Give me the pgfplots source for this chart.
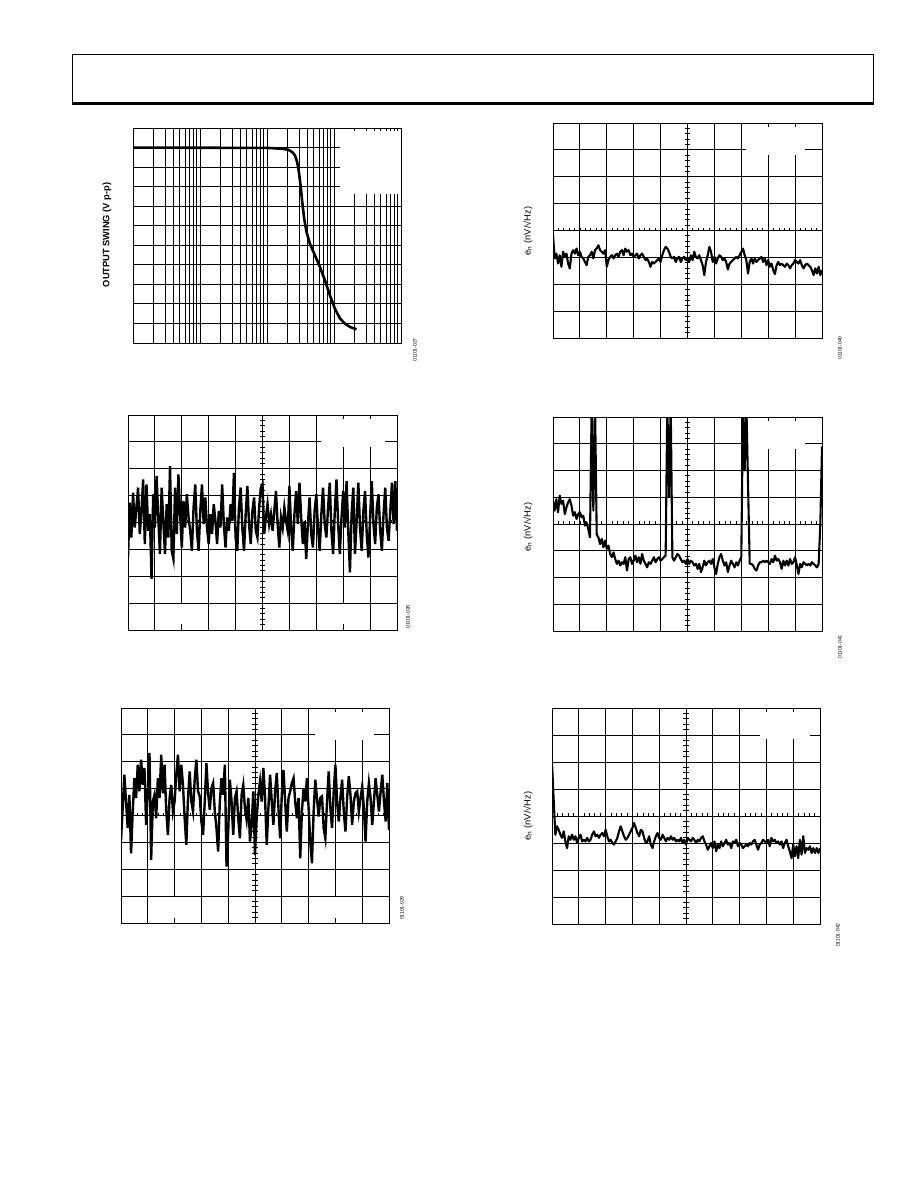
\documentclass[border=0pt]{standalone}
\usepackage{fontspec}
\setmainfont{Liberation Sans}
\usepackage{pgfplots}
\pgfplotsset{compat=1.18}

\pgfplotsset{
  scopeaxis/.style={scale only axis, anchor=south west,
    xmin=0, xmax=160, ymin=0, ymax=8,
    xtick={0,16,...,160}, ytick={0,1,...,8},
    xticklabels={}, yticklabels={},
    major tick length=0pt, minor tick length=0pt,
    grid=major, major grid style={black, line width=0.9pt},
    axis line style={black, line width=1pt}},
  trace/.style={black, line width=2.1pt, line join=round, no marks},
  noisetrace/.style={black, line width=2.4pt, line join=miter, no marks},
}
\newcommand{\scopeticks}{%
  \pgfplotsinvokeforeach{0.2,0.4,...,7.8}{\draw[line width=0.8pt] (axis cs:80,##1) ++(-2.7pt,0) -- ++(5.4pt,0);}
  \pgfplotsinvokeforeach{3.2,6.4,...,156.8}{\draw[line width=0.8pt] (axis cs:##1,4) -- ++(0,2.7pt);}
}
\newcommand{\frameredraw}{\draw[line width=1pt] (rel axis cs:0,0) rectangle (rel axis cs:1,1);}

\begin{document}
\begin{tikzpicture}
\useasboundingbox (0pt,0pt) rectangle (918pt,-1188pt);

% header box
\draw[line width=1pt] (72pt,-103pt) -- (72pt,-54.5pt) -- (873pt,-54.5pt) -- (873pt,-103pt);
\draw[line width=2.7pt] (71.5pt,-103.3pt) -- (873.5pt,-103.3pt);

% ---------- Plot 1: output swing vs frequency ----------
\begin{axis}[scale only axis, width=268pt, height=215pt, at={(133pt,-343pt)}, anchor=south west,
  xmode=log, xmin=1e3, xmax=1e7, ymin=0, ymax=11, ytick={0,1,...,11},
  xticklabels={}, yticklabels={}, major tick length=0pt, minor tick length=0pt,
  grid=both, major grid style={black, line width=0.9pt}, minor grid style={black, line width=0.9pt},
  axis line style={black, line width=1pt}]
\fill[white] (axis cs:1.22e6,7.6) rectangle (axis cs:1e7,10.85);
\addplot[black, line width=2.6pt, line join=round, no marks] coordinates {
(1e3,10.0) (1.04e5,9.98) (1.65e5,9.94) (2.07e5,9.89) (2.38e5,9.77) (2.61e5,9.60)
(2.82e5,9.26) (2.99e5,8.75) (3.17e5,8.07) (3.36e5,7.21) (3.59e5,6.36) (3.89e5,5.68)
(4.37e5,5.08) (5.19e5,4.49) (6.17e5,3.89) (7.31e5,3.21) (8.69e5,2.44) (1.03e6,1.76)
(1.23e6,1.25) (1.46e6,0.99) (1.73e6,0.82) (2.17e6,0.70)};
\frameredraw
\end{axis}
\node[rotate=90, inner sep=0pt, font=\fontsize{9.3}{10}\selectfont\bfseries] at (107pt,-235pt) {OUTPUT SWING (V p-p)};
\node[rotate=90, inner sep=0pt, font=\fontsize{5}{6}\selectfont] at (415pt,-350pt) {01101-027};

% ---------- Plot 2 ----------
\begin{axis}[scopeaxis, width=269pt, height=215pt, at={(553pt,-338pt)}]
\fill[white] (axis cs:115,6.82) rectangle (axis cs:150,7.85);
\scopeticks
\addplot[trace] coordinates {
(0,3.83) (1,2.96) (2,3.14) (3,2.77) (4,3.08) (5,2.65) (6,3.21) (7,3.02) (8,3.14) (9,2.77)
(10,2.59) (11,3.14) (12,3.27) (13,3.14) (14,3.33) (15,3.08) (16,3.21) (17,3.02) (18,2.96) (19,2.83)
(20,2.71) (21,3.02) (22,3.08) (23,3.21) (24,2.96) (25,3.27) (26,3.33) (27,3.45) (28,3.27) (29,3.21)
(30,3.14) (31,3.27) (32,2.65) (33,2.90) (34,3.02) (35,3.08) (36,2.96) (37,3.08) (38,3.14) (39,3.02)
(40,3.21) (41,3.27) (42,3.08) (43,3.33) (44,3.21) (45,3.27) (46,3.08) (47,3.14) (48,3.02) (49,3.08)
(50,3.14) (51,2.96) (52,3.08) (53,3.14) (54,3.02) (55,2.90) (56,2.96) (57,2.83) (58,2.65) (59,2.83)
(60,2.77) (61,2.83) (62,2.90) (63,2.96) (64,2.83) (65,3.08) (66,3.27) (67,3.39) (68,3.33) (69,3.21)
(70,3.02) (71,2.96) (72,3.02) (73,2.83) (74,2.96) (75,3.02) (76,2.83) (77,2.96) (78,3.02) (79,2.90)
(80,2.96) (81,2.83) (82,3.08) (83,2.90) (84,3.21) (85,3.02) (86,2.96) (87,3.08) (88,2.90) (89,2.71)
(90,2.34) (91,2.83) (92,3.08) (93,3.39) (94,3.21) (95,2.83) (96,3.02) (97,2.77) (98,2.96) (99,3.08)
(100,3.02) (101,2.90) (102,2.96) (103,2.83) (104,2.55) (105,2.77) (106,2.83) (107,2.90) (108,2.96) (109,3.02)
(110,2.96) (111,3.08) (112,3.21) (113,3.33) (114,3.08) (115,2.90) (116,2.40) (117,2.83) (118,2.96) (119,2.77)
(120,2.96) (121,2.83) (122,2.90) (123,2.96) (124,3.02) (125,2.83) (126,2.96) (127,2.71) (128,2.90) (129,2.65)
(130,2.77) (131,2.52) (132,2.38) (133,2.71) (134,2.83) (135,2.71) (136,2.77) (137,2.71) (138,2.65) (139,2.77)
(140,2.71) (141,2.59) (142,2.71) (143,2.77) (144,2.90) (145,2.83) (146,2.77) (147,2.90) (148,2.71) (149,2.59)
(150,2.71) (151,2.77) (152,2.71) (153,2.65) (154,2.52) (155,2.34) (156,2.59) (157,2.40) (158,2.65) (159,2.34)
(160,2.52)};
\frameredraw
\end{axis}
\node[rotate=90, inner sep=0pt, font=\fontsize{9.3}{10}\selectfont] at (528pt,-231pt) {e\textsubscript{n} (nV/√Hz)};
\node[rotate=90, inner sep=0pt, font=\fontsize{5}{6}\selectfont] at (840pt,-348pt) {01101-040};

% ---------- Plot 3 ----------
\begin{axis}[scopeaxis, width=269pt, height=215pt, at={(128pt,-630pt)}]
\fill[white] (axis cs:115,6.82) rectangle (axis cs:153,7.85);
\fill[white] (axis cs:26,0.22) rectangle (axis cs:38,0.96);
\fill[white] (axis cs:122,0.22) rectangle (axis cs:134,0.96);
\scopeticks
\addplot[noisetrace] coordinates {
(0,2.70) (1,4.74) (2,3.44) (3,5.11) (4,3.81) (5,4.56) (6,5.30) (7,3.57) (8,4.43) (9,5.60)
(10,3.20) (11,5.42) (12,3.69) (13,4.31) (14,1.90) (15,5.05) (16,3.81) (17,5.73) (18,4.19) (19,2.83)
(20,5.30) (21,4.06) (22,2.83) (23,4.68) (24,3.44) (25,6.10) (26,2.95) (27,2.64) (28,5.30) (29,3.57)
(30,5.79) (31,4.31) (32,3.07) (33,4.80) (34,3.81) (35,5.05) (36,4.19) (37,3.69) (38,2.95) (39,4.56)
(40,5.42) (41,3.69) (42,2.95) (43,4.43) (44,5.42) (45,3.94) (46,4.93) (47,3.81) (48,3.20) (49,4.31)
(50,3.57) (51,4.68) (52,4.06) (53,3.20) (54,4.43) (55,3.81) (56,5.42) (57,3.94) (58,3.07) (59,4.19)
(60,3.69) (61,4.68) (62,4.06) (63,5.85) (64,3.44) (65,2.95) (66,4.56) (67,5.30) (68,3.81) (69,2.95)
(70,4.31) (71,5.36) (72,3.94) (73,3.20) (74,4.43) (75,4.93) (76,3.69) (77,3.44) (78,4.56) (79,5.30)
(80,5.42) (81,3.57) (82,4.19) (83,4.68) (84,3.94) (85,4.31) (86,3.69) (87,4.43) (88,5.17) (89,3.94)
(90,3.07) (91,4.19) (92,3.81) (93,4.56) (94,4.06) (95,3.69) (96,5.36) (97,3.81) (98,2.95) (99,4.31)
(100,5.17) (101,3.94) (102,5.48) (103,4.19) (104,3.20) (105,4.06) (106,2.64) (107,3.94) (108,4.93) (109,3.57)
(110,3.07) (111,4.43) (112,5.05) (113,3.81) (114,2.95) (115,4.31) (116,5.30) (117,3.94) (118,3.44) (119,4.56)
(120,5.48) (121,3.69) (122,2.83) (123,4.43) (124,5.60) (125,3.94) (126,2.83) (127,4.19) (128,5.17) (129,3.81)
(130,5.54) (131,3.69) (132,2.15) (133,4.31) (134,5.30) (135,2.83) (136,4.06) (137,5.48) (138,3.81) (139,2.95)
(140,4.43) (141,5.17) (142,3.57) (143,2.70) (144,4.19) (145,5.54) (146,3.94) (147,3.20) (148,4.56) (149,5.05)
(150,3.69) (151,2.95) (152,4.31) (153,5.30) (154,3.81) (155,3.32) (156,4.43) (157,5.48) (158,3.94) (159,5.54)
(160,3.69)};
\frameredraw
\end{axis}
\node[rotate=90, inner sep=0pt, font=\fontsize{5}{6}\selectfont] at (408pt,-617pt) {01101-028};

% ---------- Plot 4 ----------
\begin{axis}[scopeaxis, width=269pt, height=214pt, at={(553pt,-631pt)}]
\fill[white] (axis cs:115,6.82) rectangle (axis cs:150,7.85);
\scopeticks
\addplot[trace] coordinates {
(0,4.87) (1,4.50) (2,4.93) (3,4.44) (4,5.06) (5,4.75) (6,4.87) (7,4.37) (8,4.62) (9,4.81)
(10,4.93) (11,4.68) (12,4.31) (13,4.44) (14,4.19) (15,4.37) (16,4.44) (17,4.25) (18,4.31) (19,3.94)
(20,4.06) (21,3.81) (22,3.50) (23,8.5) (24,4.5) (25,8.5) (26,3.6) (27,3.50) (28,3.25) (29,3.44)
(30,3.13) (31,3.38) (32,3.07) (33,3.19) (34,2.88) (35,2.76) (36,2.94) (37,2.69) (38,2.51) (39,2.63)
(40,2.45) (41,2.57) (42,2.51) (43,2.76) (44,2.26) (45,2.69) (46,2.76) (47,2.51) (48,2.63) (49,2.82)
(50,2.57) (51,2.76) (52,2.51) (53,2.88) (54,2.63) (55,2.51) (56,2.38) (57,2.57) (58,2.51) (59,2.63)
(60,2.76) (61,2.57) (62,2.69) (63,2.76) (64,2.63) (65,2.69) (66,2.76) (67,2.82) (68,8.5) (69,5.0)
(70,8.5) (71,2.76) (72,2.63) (73,2.76) (74,2.88) (75,2.82) (76,2.69) (77,2.57) (78,2.63) (79,2.51)
(80,2.69) (81,2.51) (82,2.63) (83,2.57) (84,2.45) (85,2.51) (86,2.32) (87,2.51) (88,2.20) (89,2.38)
(90,2.63) (91,2.45) (92,2.57) (93,2.63) (94,2.51) (95,2.69) (96,2.38) (97,2.13) (98,2.51) (99,2.76)
(100,2.88) (101,2.63) (102,2.45) (103,2.57) (104,2.20) (105,2.45) (106,2.63) (107,2.51) (108,2.38) (109,2.57)
(110,2.45) (111,2.63) (112,2.76) (113,8.5) (114,6.0) (115,8.5) (116,5.5) (117,2.51) (118,2.51) (119,2.45)
(120,2.32) (121,2.26) (122,2.45) (123,2.57) (124,2.57) (125,2.63) (126,2.57) (127,2.63) (128,2.57) (129,2.51)
(130,2.69) (131,2.57) (132,2.82) (133,2.63) (134,2.69) (135,2.57) (136,2.32) (137,2.63) (138,2.45) (139,2.63)
(140,2.45) (141,2.69) (142,2.51) (143,2.57) (144,2.76) (145,2.45) (146,2.13) (147,2.51) (148,2.38) (149,2.57)
(150,2.51) (151,2.45) (152,2.51) (153,2.45) (154,2.57) (155,2.51) (156,2.45) (157,2.38) (158,2.51) (159,4.0)
(160,6.9)};
\frameredraw
\end{axis}
\node[rotate=90, inner sep=0pt, font=\fontsize{9.3}{10}\selectfont] at (528pt,-527pt) {e\textsubscript{n} (nV/√Hz)};
\node[rotate=90, inner sep=0pt, font=\fontsize{5}{6}\selectfont] at (840pt,-647pt) {01101-041};

% ---------- Plot 5 ----------
\begin{axis}[scopeaxis, width=268pt, height=215pt, at={(121pt,-923pt)}]
\fill[white] (axis cs:116,6.82) rectangle (axis cs:151,7.85);
\fill[white] (axis cs:26,0.18) rectangle (axis cs:38,0.96);
\fill[white] (axis cs:122,0.18) rectangle (axis cs:134,0.96);
\scopeticks
\addplot[noisetrace] coordinates {
(0,3.09) (1,4.27) (2,5.52) (3,4.52) (4,3.53) (5,4.77) (6,2.59) (7,4.15) (8,5.39) (9,4.65)
(10,5.89) (11,4.90) (12,6.08) (13,5.14) (14,5.77) (15,3.65) (16,4.90) (17,6.33) (18,2.35) (19,4.52)
(20,4.77) (21,3.90) (22,5.39) (23,4.65) (24,6.26) (25,4.83) (26,5.89) (27,4.21) (28,3.28) (29,4.65)
(30,5.14) (31,4.15) (32,4.52) (33,5.52) (34,6.26) (35,4.90) (36,5.89) (37,5.14) (38,3.90) (39,2.91)
(40,4.65) (41,5.64) (42,4.52) (43,4.15) (44,5.33) (45,6.08) (46,4.90) (47,4.71) (48,3.78) (49,3.28)
(50,4.52) (51,5.95) (52,4.83) (53,4.21) (54,5.02) (55,5.21) (56,4.15) (57,3.53) (58,2.66) (59,4.52)
(60,5.39) (61,4.77) (62,5.89) (63,2.10) (64,3.40) (65,5.33) (66,4.52) (67,3.28) (68,4.65) (69,4.90)
(70,3.90) (71,3.15) (72,4.77) (73,5.14) (74,4.27) (75,3.84) (76,4.65) (77,3.03) (78,3.65) (79,4.90)
(80,2.53) (81,3.90) (82,4.77) (83,5.27) (84,4.52) (85,5.77) (86,4.65) (87,2.91) (88,4.27) (89,5.52)
(90,4.52) (91,3.65) (92,4.90) (93,5.58) (94,4.27) (95,3.15) (96,4.77) (97,5.70) (98,4.52) (99,3.40)
(100,4.65) (101,4.90) (102,5.21) (103,5.39) (104,4.52) (105,3.90) (106,4.65) (107,2.41) (108,4.15) (109,5.02)
(110,4.52) (111,5.39) (112,4.27) (113,3.03) (114,2.22) (115,4.15) (116,5.33) (117,4.65) (118,3.96) (119,4.65)
(120,4.71) (121,3.53) (122,3.15) (123,4.52) (124,5.64) (125,4.27) (126,3.53) (127,4.90) (128,5.89) (129,4.52)
(130,3.78) (131,4.65) (132,5.33) (133,4.15) (134,3.40) (135,4.65) (136,5.46) (137,4.77) (138,3.65) (139,4.52)
(140,4.83) (141,4.90) (142,4.15) (143,4.65) (144,5.08) (145,4.27) (146,3.03) (147,4.52) (148,5.21) (149,4.65)
(150,3.65) (151,4.52) (152,5.39) (153,4.77) (154,4.15) (155,4.90) (156,5.52) (157,4.52) (158,3.78) (159,5.21)
(160,3.47)};
\frameredraw
\end{axis}
\node[rotate=90, inner sep=0pt, font=\fontsize{5}{6}\selectfont] at (402pt,-908pt) {01101-029};

% ---------- Plot 6 ----------
\begin{axis}[scopeaxis, width=268pt, height=216pt, at={(552pt,-924pt)}]
\fill[white] (axis cs:124,6.85) rectangle (axis cs:154,7.85);
\scopeticks
\addplot[trace] coordinates {
(0,6.0) (1,4.6) (2,3.3) (3,3.62) (4,3.49) (5,3.31) (6,3.19) (7,3.43) (8,3.06) (9,2.81)
(10,3.25) (11,3.12) (12,3.31) (13,3.12) (14,3.25) (15,3.00) (16,3.19) (17,3.31) (18,3.06) (19,3.12)
(20,3.06) (21,3.19) (22,3.06) (23,3.12) (24,3.31) (25,3.43) (26,3.25) (27,3.31) (28,3.19) (29,3.31)
(30,3.37) (31,3.25) (32,3.49) (33,3.25) (34,3.06) (35,3.12) (36,3.00) (37,2.94) (38,3.06) (39,3.19)
(40,3.43) (41,3.62) (42,3.43) (43,3.25) (44,3.12) (45,3.19) (46,3.31) (47,3.43) (48,3.56) (49,3.74)
(50,3.56) (51,3.37) (52,3.25) (53,3.49) (54,3.43) (55,3.19) (56,3.00) (57,3.06) (58,3.25) (59,2.94)
(60,2.81) (61,3.06) (62,3.25) (63,3.37) (64,3.19) (65,3.12) (66,3.31) (67,3.19) (68,3.06) (69,3.19)
(70,3.12) (71,3.25) (72,3.12) (73,3.19) (74,3.06) (75,3.12) (76,3.06) (77,3.19) (78,3.00) (79,3.12)
(80,2.94) (81,3.19) (82,3.12) (83,3.06) (84,3.19) (85,3.12) (86,3.00) (87,3.12) (88,3.06) (89,3.19)
(90,3.25) (91,3.06) (92,2.94) (93,2.75) (94,2.88) (95,3.00) (96,2.81) (97,3.06) (98,2.69) (99,2.94)
(100,2.81) (101,3.06) (102,2.88) (103,3.00) (104,3.12) (105,2.94) (106,3.00) (107,2.81) (108,3.06) (109,3.00)
(110,3.12) (111,2.88) (112,3.00) (113,2.94) (114,2.81) (115,2.88) (116,2.94) (117,2.88) (118,3.00) (119,2.94)
(120,3.06) (121,3.12) (122,2.94) (123,2.75) (124,2.94) (125,3.00) (126,3.12) (127,3.06) (128,3.00) (129,3.12)
(130,2.88) (131,3.19) (132,3.06) (133,3.12) (134,3.00) (135,3.06) (136,2.94) (137,3.06) (138,2.81) (139,3.00)
(140,3.12) (141,2.88) (142,2.69) (143,2.44) (144,2.94) (145,2.51) (146,2.88) (147,2.44) (148,3.12) (149,2.57)
(150,3.25) (151,2.63) (152,2.81) (153,2.75) (154,2.88) (155,2.63) (156,2.81) (157,2.63) (158,2.81) (159,2.63)
(160,2.81)};
\frameredraw
\end{axis}
\node[rotate=90, inner sep=0pt, font=\fontsize{9.3}{10}\selectfont] at (528pt,-816pt) {e\textsubscript{n} (nV/√Hz)};
\node[rotate=90, inner sep=0pt, font=\fontsize{5}{6}\selectfont] at (838pt,-935pt) {01101-042};

\end{tikzpicture}
\end{document}
